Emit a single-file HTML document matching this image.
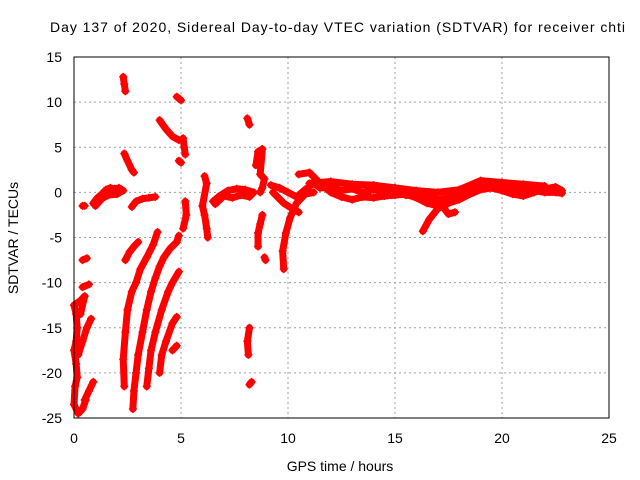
<!DOCTYPE html>
<html><head><meta charset="utf-8"><style>
body{margin:0;background:#fff;}
svg{display:block;font-family:"Liberation Sans",sans-serif;}
</style></head><body>
<svg id="chart" width="640" height="480" xmlns="http://www.w3.org/2000/svg">
<text x="50" y="32" font-size="14" textLength="575" lengthAdjust="spacing">Day 137 of 2020, Sidereal Day-to-day VTEC variation (SDTVAR) for receiver chti</text>
<text x="340" y="471" font-size="14" text-anchor="middle">GPS time / hours</text>
<text transform="translate(18,238) rotate(-90)" font-size="14" text-anchor="middle">SDTVAR / TECUs</text>
<g id="grid"></g><g id="ticks"></g><g id="marks"></g>
<rect x="74" y="57" width="535" height="361" fill="none" stroke="#000" stroke-width="1"/>
</svg>
<script>
const xTicks=[0,5,10,15,20,25];
const yTicks=[15,10,5,0,-5,-10,-15,-20,-25];
const track1=[[0,-12.5],[0.1,-13.5],[0.15,-15],[0.1,-16.5],[0,-17.5],[0.1,-19],[0.15,-20.5],[0.05,-21.5],[0,-23.5],[0.2,-24.5],[0.4,-24],[0.55,-23]];
const track2=[[0.2,-18],[0.4,-16.5],[0.6,-15],[0.8,-14]];
const track3=[[0,-12.5],[0.3,-12],[0.5,-11.5],[0.3,-13.5]];
const track4=[[0.5,-23],[0.7,-22],[0.9,-21]];
const track5=[[0.4,-10.5],[0.7,-10.2]];
const track6=[[0.4,-7.5],[0.6,-7.3]];
const track7=[[0.9,-1.2],[1.1,-0.6],[1.3,-0.2],[1.5,0.3],[1.7,0.5],[1.9,0.4],[2.1,0.5],[2.3,0.2],[2.0,-0.2],[1.6,-0.3],[1.3,-0.7],[1.0,-1.5]];
const track8=[[0.4,-1.5],[0.5,-1.5]];
const track9=[[2.3,12.8],[2.35,12],[2.4,11.2]];
const track10=[[2.35,4.3],[2.5,3.5],[2.7,2.5],[2.8,2.2]];
const track11=[[2.7,-1.6],[2.9,-1],[3.2,-0.7],[3.5,-0.6],[3.8,-0.5]];
const track12=[[2.35,-21.5],[2.3,-18.5],[2.4,-15.5],[2.5,-13],[2.7,-11],[2.9,-10],[3.1,-8.5],[3.4,-7.2],[3.7,-5.8],[3.9,-4.4]];
const track13=[[2.4,-7.5],[2.6,-6.6],[2.8,-6],[3.0,-5.5]];
const track14=[[2.75,-24],[2.8,-22],[2.9,-20],[3.0,-18],[3.2,-15.5],[3.4,-13],[3.6,-11],[3.8,-9.5],[4.0,-8.2],[4.2,-7.2],[4.5,-6.2],[4.8,-5.5],[4.9,-4.8]];
const track15=[[3.4,-21.5],[3.5,-19.5],[3.6,-17.5],[3.8,-15.5],[4.1,-13],[4.4,-11],[4.6,-10],[4.9,-8.8]];
const track16=[[4.0,-20],[4.1,-18],[4.3,-16.5],[4.6,-14.5],[4.8,-13.8]];
const track17=[[4.6,-17.5],[4.8,-17]];
const track18=[[4.0,8],[4.3,7],[4.6,6.2],[4.9,5.8]];
const track19=[[4.8,10.6],[5.0,10.2]];
const track20=[[5.1,6],[5.15,5],[5.2,4.2]];
const track21=[[4.9,3.5],[5.0,3.3]];
const track22=[[5.2,-1],[5.25,-2.5],[5.1,-4]];
const track23=[[6.1,1.8],[6.2,1],[6.0,-1.5],[6.1,-2.5],[6.2,-4],[6.25,-5]];
const track24=[[6.5,-1],[6.8,-0.4],[7.2,0.2],[7.6,0.4],[8.0,0.3],[8.4,0],[8.2,-0.5],[7.8,-0.3],[7.4,-0.6],[7.0,-0.4],[6.6,-1.3]];
const track25=[[8.1,8.2],[8.2,7.5]];
const track26=[[8.5,3],[8.6,4.5],[8.8,4.8],[8.7,2],[8.9,1.5],[8.8,0.5],[8.7,0]];
const track27=[[8.8,-2.5],[8.7,-3.5],[8.6,-4.5],[8.6,-6]];
const track28=[[8.9,-7.2],[8.95,-7.5]];
const track29=[[8.2,-15],[8.1,-16.5],[8.15,-18]];
const track30=[[8.2,-21.3],[8.3,-21]];
const track31=[[9.8,-8.5],[9.75,-6.5],[9.9,-4.5],[10.1,-2.8],[10.4,-1.2],[10.8,-0.2],[11.2,0]];
const track32=[[9.2,0.8],[9.6,0.5],[10,0],[10.4,-0.5],[10.8,0.3],[11.2,1],[11.5,0.5],[12,0.6],[12.5,0.2],[13,0.4],[13.5,0],[14,0.3],[14.5,0],[15,0],[15.5,-0.3],[16,-0.4],[16.5,-0.6],[17,-0.8],[17.5,-0.6],[18,-0.3],[18.5,0.3],[19,0.8],[19.5,1],[20,0.8],[20.5,0.5],[21,0.3],[21.5,0.2],[22,0],[22.5,0],[22.8,-0.1]];
const track33=[[10.5,2],[11,2.2],[11.5,1],[12,0],[12.5,-0.5],[13,-0.8],[13.5,-0.5],[14,-0.6],[14.5,-0.4],[15,-0.3],[15.5,-0.2],[16,-0.6],[16.5,-1.2],[17,-1.5],[17.5,-1]];
const track34=[[16.3,-4.3],[16.6,-3],[17,-1.8],[17.5,-1.2],[18,-0.8],[18.5,-0.2],[19,0.3],[19.5,0.5],[20,0.2],[20.5,-0.2],[21,-0.4],[21.5,0],[22,0.4],[22.5,0.6],[22.8,0.2]];
const track35=[[16.8,-0.3],[17.2,-1.5],[17.5,-2.4],[17.8,-2.2]];
const track36=[[9.3,0],[9.8,-1.2],[10.2,-1.8],[10.5,-2.2]];
const track37=[[11,1],[12,1.2],[13,0.9],[14,0.8],[15,0.5],[16,0.2],[17,0],[18,0.3],[19,1.3],[20,1.1],[21,0.9],[22,0.7]];
const tracks=[track1,track2,track3,track4,track5,track6,track7,track8,track9,track10,track11,track12,track13,track14,track15,track16,track17,track18,track19,track20,track21,track22,track23,track24,track25,track26,track27,track28,track29,track30,track31,track32,track33,track34,track35,track36,track37];

const X0=74,X1=609,Y0=57,Y1=418;
const xs=v=>X0+(v-0)/(25-0)*(X1-X0);
const ys=v=>Y0+(15-v)/(15-(-25))*(Y1-Y0);
const NS='http://www.w3.org/2000/svg';
const grid=document.getElementById('grid'),tk=document.getElementById('ticks'),mk=document.getElementById('marks');
function mkEl(t,a,p){const e=document.createElementNS(NS,t);for(const k in a)e.setAttribute(k,a[k]);p.appendChild(e);return e;}
xTicks.forEach(v=>{
  const x=xs(v);
  if(v>0&&v<25){const g=mkEl('line',{x1:x,y1:Y0,x2:x,y2:Y1,stroke:'#a0a0a0','stroke-dasharray':'2,3'},grid);
  
  }
  const t=mkEl('text',{x:x,y:443,'font-size':14,'text-anchor':'middle'},tk);t.textContent=v;
  
  
});
yTicks.forEach(v=>{
  const y=ys(v);
  if(v<15&&v>-25){const g=mkEl('line',{x1:X0,y1:y,x2:X1,y2:y,stroke:'#a0a0a0','stroke-dasharray':'2,3'},grid);
  
  }
  const t=mkEl('text',{x:62,y:y+5,'font-size':14,'text-anchor':'end'},tk);t.textContent=v;
  
  
});
tracks.forEach(tr=>{
  const pl=mkEl('polyline',{points:tr.map(p=>xs(p[0])+','+ys(p[1])).join(' '),fill:'none',stroke:'#f00','stroke-width':7,'stroke-linejoin':'round','stroke-linecap':'round'},mk);
  
  
  tr.forEach(p=>{
    const x=xs(p[0]),y=ys(p[1]);
    const m=mkEl('path',{d:`M${x-4},${y}H${x+4}M${x},${y-4}V${y+4}`,stroke:'#f00','stroke-width':1.5},mk);
    
    
  });
});
</script>
</body></html>
